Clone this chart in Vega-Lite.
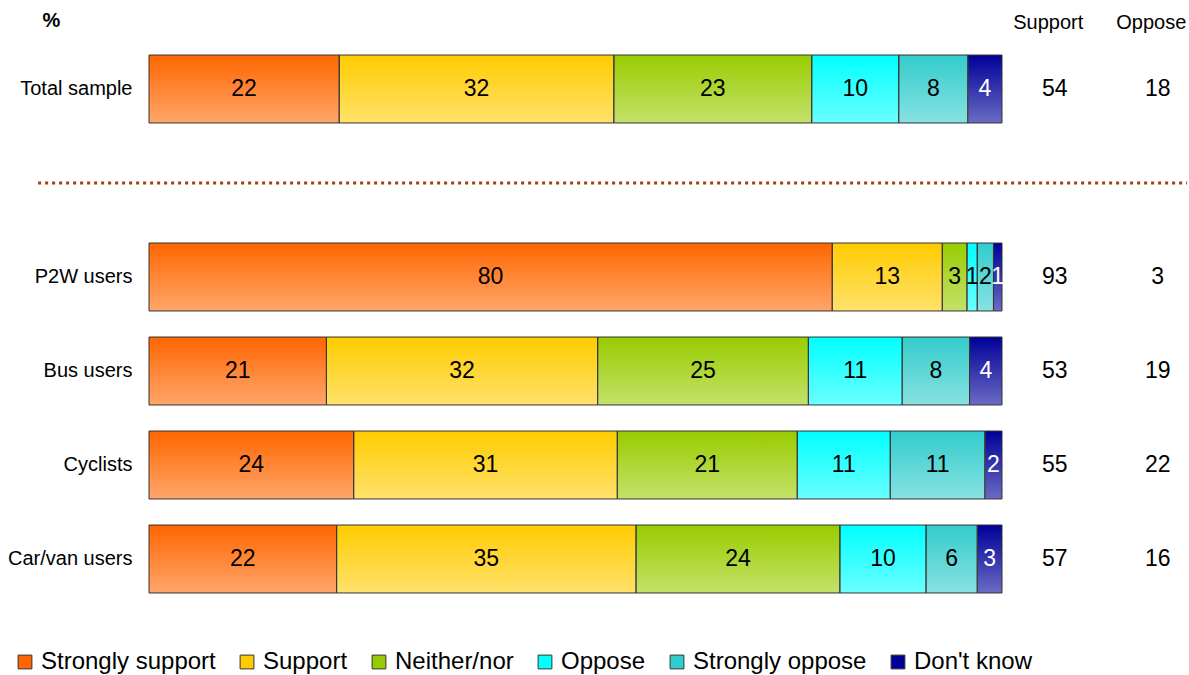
{
  "$schema": "https://vega.github.io/schema/vega-lite/v6.json",
  "padding": {"left": 7, "top": 10, "right": 3, "bottom": 0},
  "autosize": {"type": "pad"},
  "background": "white",
  "bounds": "flush",
  "spacing": 27,
  "config": {
    "view": {"stroke": null},
    "font": "Liberation Sans",
    "text": {"font": "Liberation Sans"},
    "axis": {"labelFont": "Liberation Sans", "titleFont": "Liberation Sans"},
    "legend": {"labelFont": "Liberation Sans"}
  },
  "datasets": {
    "shares": [
      {"group": "Total sample", "cat": "Strongly support", "idx": 1, "v": 22.3},
      {"group": "Total sample", "cat": "Support", "idx": 2, "v": 32.2},
      {"group": "Total sample", "cat": "Neither/nor", "idx": 3, "v": 23.2},
      {"group": "Total sample", "cat": "Oppose", "idx": 4, "v": 10.2},
      {"group": "Total sample", "cat": "Strongly oppose", "idx": 5, "v": 8.1},
      {"group": "Total sample", "cat": "Don't know", "idx": 6, "v": 4.0},
      {"group": "P2W users", "cat": "Strongly support", "idx": 1, "v": 80.1},
      {"group": "P2W users", "cat": "Support", "idx": 2, "v": 12.9},
      {"group": "P2W users", "cat": "Neither/nor", "idx": 3, "v": 2.9},
      {"group": "P2W users", "cat": "Oppose", "idx": 4, "v": 1.2},
      {"group": "P2W users", "cat": "Strongly oppose", "idx": 5, "v": 1.9},
      {"group": "P2W users", "cat": "Don't know", "idx": 6, "v": 1.0},
      {"group": "Bus users", "cat": "Strongly support", "idx": 1, "v": 20.8},
      {"group": "Bus users", "cat": "Support", "idx": 2, "v": 31.8},
      {"group": "Bus users", "cat": "Neither/nor", "idx": 3, "v": 24.7},
      {"group": "Bus users", "cat": "Oppose", "idx": 4, "v": 11.0},
      {"group": "Bus users", "cat": "Strongly oppose", "idx": 5, "v": 7.9},
      {"group": "Bus users", "cat": "Don't know", "idx": 6, "v": 3.8},
      {"group": "Cyclists", "cat": "Strongly support", "idx": 1, "v": 24.0},
      {"group": "Cyclists", "cat": "Support", "idx": 2, "v": 30.9},
      {"group": "Cyclists", "cat": "Neither/nor", "idx": 3, "v": 21.1},
      {"group": "Cyclists", "cat": "Oppose", "idx": 4, "v": 10.9},
      {"group": "Cyclists", "cat": "Strongly oppose", "idx": 5, "v": 11.1},
      {"group": "Cyclists", "cat": "Don't know", "idx": 6, "v": 2.0},
      {"group": "Car/van users", "cat": "Strongly support", "idx": 1, "v": 22.0},
      {"group": "Car/van users", "cat": "Support", "idx": 2, "v": 35.1},
      {"group": "Car/van users", "cat": "Neither/nor", "idx": 3, "v": 23.9},
      {"group": "Car/van users", "cat": "Oppose", "idx": 4, "v": 10.1},
      {"group": "Car/van users", "cat": "Strongly oppose", "idx": 5, "v": 6.0},
      {"group": "Car/van users", "cat": "Don't know", "idx": 6, "v": 2.9}
    ],
    "net": [
      {"group": "Total sample", "measure": "Support", "value": 54},
      {"group": "Total sample", "measure": "Oppose", "value": 18},
      {"group": "P2W users", "measure": "Support", "value": 93},
      {"group": "P2W users", "measure": "Oppose", "value": 3},
      {"group": "Bus users", "measure": "Support", "value": 53},
      {"group": "Bus users", "measure": "Oppose", "value": 19},
      {"group": "Cyclists", "measure": "Support", "value": 55},
      {"group": "Cyclists", "measure": "Oppose", "value": 22},
      {"group": "Car/van users", "measure": "Support", "value": 57},
      {"group": "Car/van users", "measure": "Oppose", "value": 16}
    ]
  },
  "hconcat": [
    {
      "width": 853,
      "height": 564,
      "data": {"name": "shares"},
      "transform": [
        {"stack": "v", "groupby": ["group"], "sort": [{"field": "idx", "order": "ascending"}], "offset": "normalize", "as": ["x0", "x1"]},
        {"calculate": "(datum.x0 + datum.x1) / 2", "as": "mid"}
      ],
      "encoding": {
        "y": {
          "field": "group",
          "type": "nominal",
          "sort": null,
          "scale": {"domain": ["Total sample", " ", "P2W users", "Bus users", "Cyclists", "Car/van users"], "paddingInner": 0.277, "paddingOuter": 0.1385},
          "axis": {
            "title": "%",
            "titleAngle": 0,
            "titleX": -98,
            "titleY": -22,
            "titleAlign": "center",
            "titleBaseline": "middle",
            "titleFontSize": 20,
            "titleFontWeight": "bold",
            "titleColor": "black",
            "labelFontSize": 20,
            "labelPadding": 17,
            "labelColor": "black",
            "ticks": false,
            "domain": false
          }
        }
      },
      "layer": [
        {
          "mark": {"type": "bar"},
          "encoding": {
            "x": {"field": "x0", "type": "quantitative", "scale": {"domain": [0, 1]}, "axis": null},
            "x2": {"field": "x1"},
            "color": {
              "field": "cat",
              "type": "nominal",
              "scale": {
                "domain": ["Strongly support", "Support", "Neither/nor", "Oppose", "Strongly oppose", "Don't know"],
                "range": ["#FF6600", "#FFCC00", "#99CC00", "#00FFFF", "#33CCCC", "#000099"]
              },
              "legend": {
                "orient": "none",
                "legendX": -136,
                "legendY": 608,
                "direction": "horizontal",
                "title": null,
                "symbolType": "square",
                "symbolSize": 190,
                "symbolStrokeColor": "#333333",
                "symbolStrokeWidth": 1,
                "symbolOpacity": 1,
                "labelFontSize": 24,
                "labelOffset": 4,
                "labelLimit": 300,
                "labelColor": "black",
                "columnPadding": 19
              }
            }
          }
        },
        {
          "mark": {
            "type": "bar",
            "fill": {
              "gradient": "linear",
              "x1": 0, "y1": 0, "x2": 0, "y2": 1,
              "stops": [
                {"offset": 0, "color": "rgba(255,255,255,0)"},
                {"offset": 1, "color": "rgba(255,255,255,0.42)"}
              ]
            },
            "stroke": "#333333",
            "strokeWidth": 1
          },
          "encoding": {
            "x": {"field": "x0", "type": "quantitative"},
            "x2": {"field": "x1"}
          }
        },
        {
          "mark": {"type": "text", "fontSize": 23, "baseline": "middle", "align": "center"},
          "encoding": {
            "x": {"field": "mid", "type": "quantitative"},
            "text": {"field": "v", "type": "quantitative", "format": ".0f"},
            "color": {"condition": {"test": "datum.cat === \"Don't know\"", "value": "white"}, "value": "black"}
          }
        },
        {
          "data": {"values": [{"group": " "}]},
          "mark": {"type": "rule", "color": "#A3400F", "strokeWidth": 3, "strokeDash": [3, 4]},
          "encoding": {
            "x": {"datum": -0.13, "type": "quantitative"},
            "x2": {"datum": 1.217}
          }
        }
      ]
    },
    {
      "width": 154.5,
      "height": 564,
      "data": {"name": "net"},
      "mark": {"type": "text", "fontSize": 23, "baseline": "middle"},
      "encoding": {
        "x": {
          "field": "measure",
          "type": "nominal",
          "sort": null,
          "scale": {"type": "point", "domain": ["Support", "Oppose"], "padding": 0.25},
          "axis": {"orient": "top", "title": null, "domain": false, "ticks": false, "labelFontSize": 20, "labelPadding": 10, "labelOffset": -7, "labelAngle": 0, "labelColor": "black"}
        },
        "y": {
          "field": "group",
          "type": "nominal",
          "sort": null,
          "scale": {"domain": ["Total sample", " ", "P2W users", "Bus users", "Cyclists", "Car/van users"], "paddingInner": 0.277, "paddingOuter": 0.1385},
          "axis": null
        },
        "text": {"field": "value", "type": "quantitative"},
        "color": {"value": "black"}
      }
    }
  ]
}
